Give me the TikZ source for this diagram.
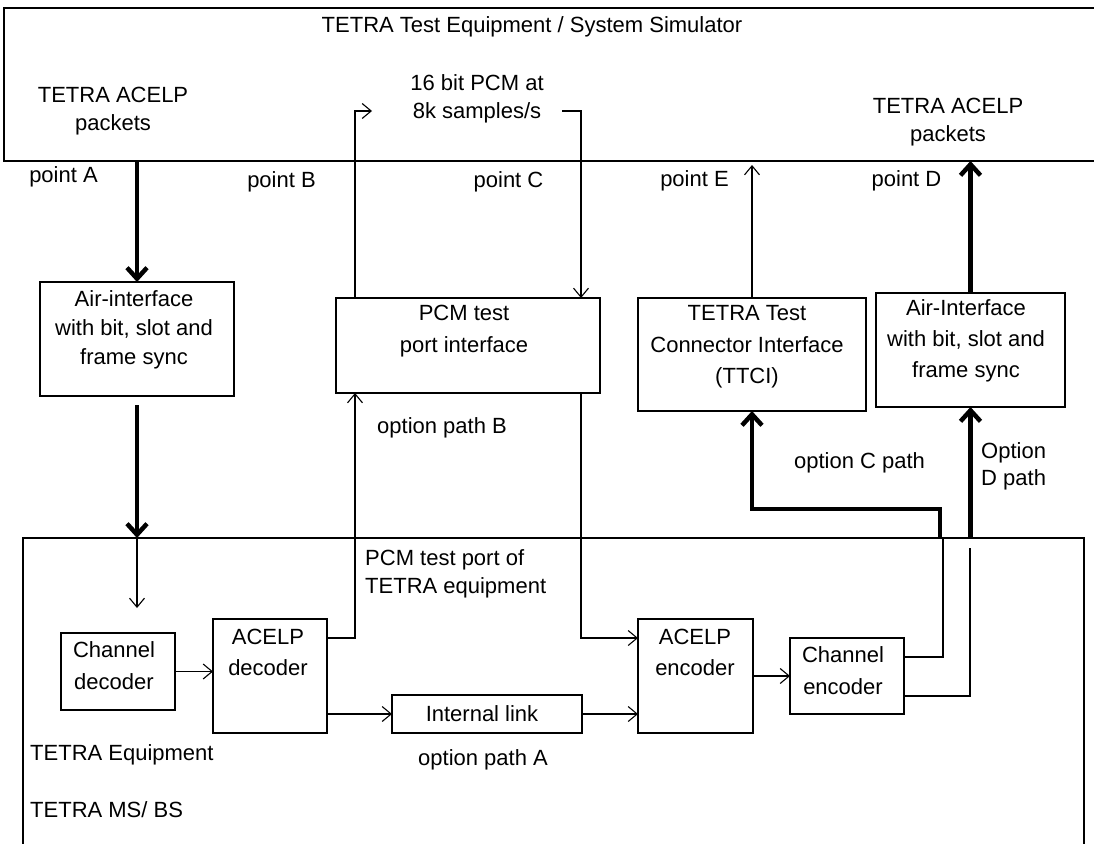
\documentclass[tikz,border=0pt]{standalone}
\usepackage{fontspec}
\setmainfont{Liberation Sans}
\usetikzlibrary{arrows.meta,calc}
\begin{document}
\begin{tikzpicture}[x=1pt,y=-1pt,
  box/.style={draw, line width=1.2pt, inner sep=0pt, outer sep=0pt},
  txt/.style={font=\fontsize{22}{29}\selectfont, inner sep=0pt, align=center},
  ltxt/.style={font=\fontsize{22}{29}\selectfont, inner sep=0pt, align=left, anchor=west},
  smallarrow/.style={line width=1.1pt, -{Straight Barb[length=9pt,width=15pt]}},
  smallline/.style={line width=1.1pt},
  bigarrow/.style={line width=4.5pt, line join=miter, -{Straight Barb[length=11pt,width=20pt]}}
]
\useasboundingbox (0,0) rectangle (1094,843);
\clip (0,0) rectangle (1094,843);

% frames
\node[box, minimum width=1120pt, minimum height=153pt] (sim) at (564,84.5) {};
\node[box, minimum width=1061pt, minimum height=340pt] (equip) at (553.5,708) {};

% boxes
\node[box, minimum width=194pt, minimum height=114pt] (air1) at (137,339) {};
\node[box, minimum width=264pt, minimum height=95pt] (pcm) at (468,345.5) {};
\node[box, minimum width=228pt, minimum height=113pt] (ttci) at (752,354.5) {};
\node[box, minimum width=189pt, minimum height=114pt] (air2) at (970.5,350) {};
\node[box, minimum width=114pt, minimum height=77pt] (chdec) at (118,671.5) {};
\node[box, minimum width=114pt, minimum height=114pt] (acdec) at (270,676) {};
\node[box, minimum width=190pt, minimum height=38pt] (intl) at (487,714) {};
\node[box, minimum width=115pt, minimum height=114pt] (acenc) at (695.5,676) {};
\node[box, minimum width=114pt, minimum height=76pt] (chenc) at (847,676) {};

% box texts
\node[txt] (air1t) at (134,330) {Air-interface\\with bit, slot and\\frame sync};
\node[txt, font=\fontsize{22}{32}\selectfont] (pcmt) at (464,331) {PCM test\\port interface};
\node[txt, font=\fontsize{22}{31.5}\selectfont] (ttcit) at (747,347) {TETRA Test\\Connector Interface\\(TTCI)};
\node[txt, font=\fontsize{22}{31}\selectfont] (air2t) at (966,341) {Air-Interface\\with bit, slot and\\frame sync};
\node[txt, font=\fontsize{22}{32}\selectfont] (chdect) at (114,666) {Channel\\decoder};
\node[txt, font=\fontsize{22}{31}\selectfont] (acdect) at (268,652) {ACELP\\decoder};
\node[txt] (intlt) at (482,714) {Internal link};
\node[txt, font=\fontsize{22}{31}\selectfont] (acenct) at (695,652) {ACELP\\encoder};
\node[txt, font=\fontsize{22}{32}\selectfont] (chenct) at (843,671) {Channel\\encoder};

% free texts
\node[txt] (title) at (532,27) {TETRA Test Equipment / System Simulator};
\node[txt, font=\fontsize{22}{28}\selectfont] (lpk) at (113,111) {TETRA ACELP\\packets};
\node[txt, font=\fontsize{22}{28}\selectfont] (rate) at (477,99) {16 bit PCM at\\8k samples/s};
\node[txt, font=\fontsize{22}{28}\selectfont] (rpk) at (948,122) {TETRA ACELP\\packets};
\node[txt] (ptA) at (63.5,177) {point A};
\node[txt] (ptB) at (281.5,182) {point B};
\node[txt] (ptC) at (508.5,182) {point C};
\node[txt] (ptE) at (694.5,181) {point E};
\node[txt] (ptD) at (906.5,181) {point D};
\node[txt] (optB) at (442,428) {option path B};
\node[txt] (optC) at (859.5,463) {option C path};
\node[ltxt, font=\fontsize{22}{27}\selectfont] (optD) at (981,466) {Option\\D path};
\node[ltxt, font=\fontsize{22}{28}\selectfont] (pcmport) at (365,574) {PCM test port of\\TETRA equipment};
\node[ltxt] (teq) at (30,755) {TETRA Equipment};
\node[ltxt] (msbs) at (30,810) {TETRA MS/ BS};
\node[txt] (optA) at (483,760) {option path A};

% point A path
\coordinate (aTop) at (air1.north |- sim.south);
\draw[bigarrow] (aTop) -- (air1.north);
\coordinate (aLow) at ($(air1.south)+(0,9)$);
\coordinate (aIn) at (air1.south |- equip.north);
\draw[bigarrow] (aLow) -- (aIn);
\coordinate (aTip) at (137,608);
\draw[smallarrow] (aIn) -- (aTip);

% decoder chain
\draw[smallarrow] (chdec.east) -- (chdec.east -| acdec.west);
\coordinate (bOut) at ($(acdec.north east)+(0,19)$);
\coordinate (bx) at (355,638);
\draw[smallarrow] (bOut) -- (bx) -- (bx |- pcm.south);
\coordinate (bTurn) at (355,111);
\coordinate (bTip) at (372,111);
\draw[smallarrow] (bx |- pcm.north) -- (bTurn) -- (bTip);

% point C path
\coordinate (cStart) at (562,111);
\coordinate (cTurn) at (581,111);
\draw[smallarrow] (cStart) -- (cTurn) -- (cTurn |- pcm.north);
\coordinate (cLow) at (581,638);
\draw[smallarrow] (cTurn |- pcm.south) -- (cLow) -- (cLow -| acenc.west);

% internal link
\draw[smallarrow] (acdec.east |- intl.west) -- (intl.west);
\draw[smallarrow] (intl.east) -- (intl.east -| acenc.west);
\draw[smallarrow] (acenc.east) -- (acenc.east -| chenc.west);

% option C path
\coordinate (c1) at (943,657);
\draw[smallline] (chenc.east |- c1) -- (c1) -- (c1 |- equip.north);
\coordinate (c2) at (940,509);
\draw[bigarrow] (c2 |- equip.north) -- (c2) -- (c2 -| ttci.south) -- (ttci.south);

% option D path
\coordinate (d1) at (970,696);
\coordinate (d0) at (970,548);
\draw[smallline] (chenc.east |- d1) -- (d1) -- (d0);
\draw[bigarrow] (air2.south |- equip.north) -- (air2.south);
\draw[bigarrow] (air2.north) -- (air2.north |- sim.south);

% point E
\coordinate (eTip) at (752,165);
\draw[smallarrow] (ttci.north) -- (eTip);
\end{tikzpicture}
\end{document}
